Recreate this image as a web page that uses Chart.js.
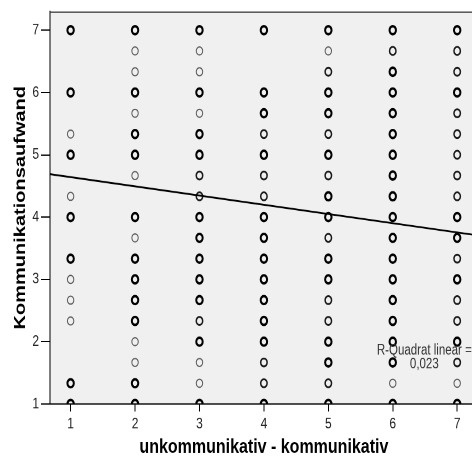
<!DOCTYPE html>
<html>
<head>
<meta charset="utf-8">
<script src="https://cdn.jsdelivr.net/npm/chart.js@4/dist/chart.umd.min.js"></script>
<style>
  html, body { margin: 0; padding: 0; background: #fff; overflow: hidden; }
  #frame { width: 472px; height: 459px; overflow: hidden; position: relative; }
  /* the plot is drawn in a 483x367 box and stretched vertically to fill the page */
  #stretch { width: 483px; height: 367px; transform-origin: 0 0; transform: scaleY(1.2507); }
</style>
</head>
<body>
<div id="frame"><div id="stretch"><canvas id="c" width="483" height="367"></canvas></div></div>
<script>
// answer scale positions
const xCategories = [1, 2, 3, 4, 5, 6, 7];
const yLevels = [1, 1.333, 1.667, 2, 2.333, 2.667, 3, 3.333, 3.667, 4, 4.333, 4.667,
                 5, 5.333, 5.667, 6, 6.333, 6.667, 7];

// response density per cell, from y = 1 up to y = 7
// 0 = no answer, 1 = single answer, 2 = a few answers, 3 = many answers
const col1 = [3, 3, 0, 0, 1, 1, 1, 3, 0, 3, 1, 0, 3, 1, 0, 3, 0, 0, 3];
const col2 = [3, 3, 1, 1, 3, 3, 3, 3, 1, 3, 0, 1, 3, 3, 1, 3, 1, 1, 3];
const col3 = [3, 1, 1, 3, 2, 3, 3, 3, 3, 3, 2, 2, 3, 3, 1, 3, 1, 1, 3];
const col4 = [3, 2, 2, 3, 3, 3, 3, 3, 3, 3, 2, 2, 3, 2, 3, 3, 0, 0, 3];
const col5 = [3, 2, 3, 3, 2, 2, 3, 3, 2, 3, 3, 2, 3, 2, 3, 3, 2, 1, 3];
const col6 = [3, 1, 3, 3, 3, 3, 3, 3, 3, 3, 3, 3, 3, 3, 3, 3, 3, 2, 3];
const col7 = [3, 1, 2, 3, 2, 2, 3, 2, 3, 3, 2, 2, 2, 2, 2, 3, 2, 2, 3];

const xTicks = [1, 2, 3, 4, 5, 6, 7];
const yTicks = [1, 2, 3, 4, 5, 6, 7];

// linear fit
const fitIntercept = 4.79;
const fitSlope = -0.148;
const rSquaredText = ['R-Quadrat linear =', '0,023'];

const X_MIN = 0.68, X_MAX = 7.32, Y_MIN = 1, Y_MAX = 7.3;
const FONT = "'Liberation Sans', Arial, sans-serif";

const columns = [col1, col2, col3, col4, col5, col6, col7];
const densityStyle = {
  1: { width: 1.0, color: '#5c5c5c' },
  2: { width: 1.5, color: '#1a1a1a' },
  3: { width: 2.0, color: '#000000' }
};

function pointsFor(level) {
  const pts = [];
  columns.forEach((col, ci) => {
    col.forEach((d, li) => {
      if (d === level) pts.push({ x: xCategories[ci], y: yLevels[li] });
    });
  });
  return pts;
}

const pointSets = [1, 2, 3].map(level => ({
  type: 'scatter',
  data: pointsFor(level),
  pointStyle: 'circle',
  pointRadius: 3.2,
  pointHoverRadius: 3.2,
  pointBackgroundColor: 'rgba(0,0,0,0)',
  pointBorderColor: densityStyle[level].color,
  pointBorderWidth: densityStyle[level].width,
  showLine: false,
  clip: 0,
  order: 1
}));

const fitLine = {
  type: 'line',
  data: [
    { x: X_MIN, y: fitIntercept + fitSlope * X_MIN },
    { x: X_MAX, y: fitIntercept + fitSlope * X_MAX }
  ],
  borderColor: '#000',
  borderWidth: 1.5,
  pointRadius: 0,
  fill: false,
  clip: 0,
  order: 0
};

const plotFrame = {
  id: 'plotFrame',
  beforeDraw(chart) {
    const { ctx, chartArea: a } = chart;
    ctx.save();
    ctx.fillStyle = '#f0f0f0';
    ctx.fillRect(a.left, a.top, a.right - a.left, a.bottom - a.top);
    ctx.restore();
  },
  afterDatasetsDraw(chart) {
    const { ctx, chartArea: a, scales } = chart;
    ctx.save();
    // R² annotation
    ctx.fillStyle = '#333';
    ctx.font = '11.5px ' + FONT;
    ctx.textAlign = 'center';
    ctx.textBaseline = 'middle';
    const tx = scales.x.getPixelForValue(6.49);
    ctx.fillText(rSquaredText[0], tx, scales.y.getPixelForValue(1.86));
    ctx.fillText(rSquaredText[1], tx, scales.y.getPixelForValue(1.64));
    // frame on top and right
    ctx.strokeStyle = '#333';
    ctx.lineWidth = 1;
    ctx.beginPath();
    ctx.moveTo(a.left, a.top + 0.5);
    ctx.lineTo(a.right, a.top + 0.5);
    ctx.moveTo(a.right - 0.5, a.top);
    ctx.lineTo(a.right - 0.5, a.bottom);
    ctx.stroke();
    ctx.restore();
  }
};

new Chart(document.getElementById('c'), {
  type: 'scatter',
  data: { datasets: [...pointSets, fitLine] },
  plugins: [plotFrame],
  options: {
    responsive: false,
    devicePixelRatio: 2,
    animation: false,
    events: [],
    layout: { padding: { top: 8, left: 0, right: 0, bottom: 0 } },
    plugins: { legend: { display: false }, tooltip: { enabled: false } },
    scales: {
      x: {
        type: 'linear',
        min: X_MIN,
        max: X_MAX,
        afterBuildTicks: s => { s.ticks = xTicks.map(v => ({ value: v })); },
        afterFit: s => { s.height = 44; },
        grid: { drawOnChartArea: false, drawTicks: true, tickLength: 6, color: '#000', lineWidth: 1 },
        border: { color: '#000', width: 1 },
        ticks: { color: '#222', font: { family: FONT, size: 12 }, padding: 3, maxRotation: 0, autoSkip: false },
        title: {
          display: true,
          text: 'unkommunikativ - kommunikativ',
          color: '#000',
          font: { family: FONT, size: 16, weight: 'bold' },
          padding: { top: 0, bottom: 0 }
        }
      },
      y: {
        type: 'linear',
        min: Y_MIN,
        max: Y_MAX,
        afterBuildTicks: s => { s.ticks = yTicks.map(v => ({ value: v })); },
        afterFit: s => { s.width = 50; },
        grid: { drawOnChartArea: false, drawTicks: true, tickLength: 9, color: '#000', lineWidth: 1 },
        border: { color: '#000', width: 1 },
        ticks: { color: '#222', font: { family: FONT, size: 12 }, padding: 2, autoSkip: false },
        title: {
          display: true,
          text: 'Kommunikationsaufwand',
          color: '#000',
          font: { family: FONT, size: 16, weight: 'bold' },
          padding: { top: 11, bottom: 0 }
        }
      }
    }
  }
});
</script>
</body>
</html>
